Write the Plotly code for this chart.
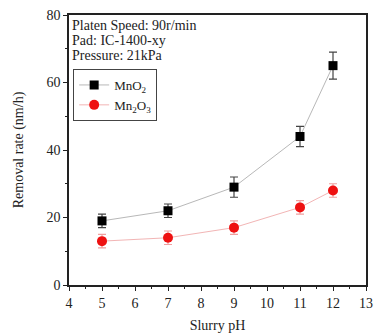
import plotly.graph_objects as go

ph = [5, 7, 9, 11, 12]
mno2 = [19, 22, 29, 44, 65]
mno2_err = [2, 2, 3, 3, 4]
mn2o3 = [13, 14, 17, 23, 28]
mn2o3_err = [2, 2, 2, 2, 2]
x_ticks = [4, 5, 6, 7, 8, 9, 10, 11, 12, 13]
y_ticks = [0, 20, 40, 60, 80]
notes = ["Platen Speed: 90r/min", "Pad: IC-1400-xy", "Pressure: 21kPa"]

FONT = "Liberation Serif"

fig = go.Figure()
fig.add_trace(go.Scatter(
    x=ph, y=mno2, name="MnO<sub>2</sub>", mode="lines+markers",
    line=dict(color="#b8b8b8", width=1),
    marker=dict(symbol="square", size=9, color="black"),
    error_y=dict(type="data", array=mno2_err, color="#444444", thickness=1.2, width=4),
))
fig.add_trace(go.Scatter(
    x=ph, y=mn2o3, name="Mn<sub>2</sub>O<sub>3</sub>", mode="lines+markers",
    line=dict(color="#f2b5b5", width=1),
    marker=dict(symbol="circle", size=10, color="#ee1111"),
    error_y=dict(type="data", array=mn2o3_err, color="#f0a0a0", thickness=1.2, width=4),
))

for i, t in enumerate(notes):
    fig.add_annotation(text=t, xref="paper", yref="paper", x=0.005, y=0.995 - i * 0.055,
                       xanchor="left", yanchor="top", showarrow=False,
                       font=dict(family=FONT, size=14, color="#222"))

fig.update_layout(
    width=375, height=333,
    margin=dict(l=69, r=9, t=15, b=48),
    paper_bgcolor="white", plot_bgcolor="white",
    font=dict(family=FONT, size=13, color="#222"),
    showlegend=True,
    legend=dict(x=0.014, y=0.80, xanchor="left", yanchor="top",
                bordercolor="#444", borderwidth=1, bgcolor="white",
                font=dict(family=FONT, size=13), tracegroupgap=0,
                itemwidth=30),
)
fig.update_xaxes(
    range=[4, 13], tickvals=x_ticks, ticks="outside", ticklen=4, tickwidth=1,
    tickcolor="#222", linecolor="#222", linewidth=1.5, mirror=True, showgrid=False,
    zeroline=False, automargin=False,
    minor=dict(dtick=0.5, ticks="outside", ticklen=2, tickcolor="#222", showgrid=False),
    title=dict(text="Slurry pH", standoff=14, font=dict(family=FONT, size=14)),
    tickfont=dict(family=FONT, size=14),
)
fig.update_yaxes(
    range=[0, 80], tickvals=y_ticks, ticks="outside", ticklen=4, tickwidth=1,
    tickcolor="#222", linecolor="#222", linewidth=1.5, mirror=True, showgrid=False,
    zeroline=False, automargin=False,
    minor=dict(dtick=10, ticks="outside", ticklen=2, tickcolor="#222", showgrid=False),
    title=dict(text="Removal rate (nm/h)", standoff=20, font=dict(family=FONT, size=14)),
    tickfont=dict(family=FONT, size=14),
)

fig.write_html("out.html")
